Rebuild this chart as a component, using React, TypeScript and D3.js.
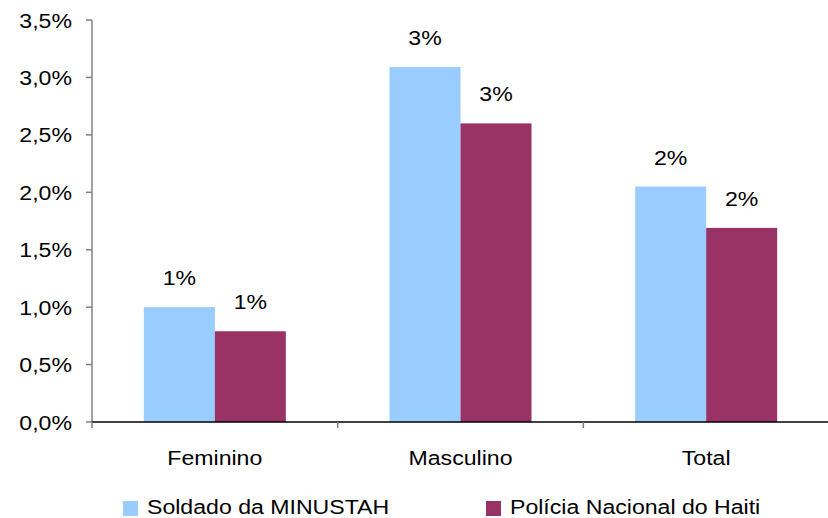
import React from "react";
import * as d3 from "d3";

const categories = ["Feminino", "Masculino", "Total"];
const seriesNames = ["Soldado da MINUSTAH", "Polícia Nacional do Haiti"];
const soldado = [1.0, 3.09, 2.05];
const policia = [0.79, 2.6, 1.69];
const barLabels = [["1%", "1%"], ["3%", "3%"], ["2%", "2%"]];
const yTicks = [0, 0.5, 1.0, 1.5, 2.0, 2.5, 3.0, 3.5];
const colors = ["#99ccff", "#993366"];

function T({ x, y, anchor = "start", children }: { x: number; y: number; anchor?: string; children: React.ReactNode }) {
  return (
    <text transform={`translate(${x},${y}) scale(1.1,1)`} textAnchor={anchor} fontSize={21} fill="#000">
      {children}
    </text>
  );
}

export default function App() {
  const W = 828, H = 518;
  const left = 92, right = 829, top = 20, bottom = 422;
  const x = d3.scaleBand().domain(categories).range([left, right]).paddingInner(0).paddingOuter(0);
  const y = d3.scaleLinear().domain([0, 3.5]).range([bottom, top]);
  const bw = 71;
  const series = [soldado, policia];
  const font = "'Liberation Sans', Arial, sans-serif";
  const fmt = (v: number) => v.toFixed(1).replace(".", ",") + "%";
  const axisColor = "#808080";
  return (
    <div style={{ position: "absolute", left: 0, top: 0 }}>
      <svg width={W} height={H} style={{ display: "block" }} fontFamily={font}>
        <rect width={W} height={H} fill="#fff" />
        {categories.map((c, i) =>
          series.map((s, j) => {
            const cx = (x(c) as number) + x.bandwidth() / 2;
            const bx = cx - bw + j * bw;
            return (
              <g key={c + j}>
                <rect x={bx} y={y(s[i])} width={bw} height={bottom - y(s[i])} fill={colors[j]} />
                <T x={bx + bw / 2} y={y(s[i]) - 22} anchor="middle">{barLabels[i][j]}</T>
              </g>
            );
          })
        )}
        <line x1={left} x2={left} y1={top} y2={bottom} stroke={axisColor} strokeWidth={1.5} />
        {yTicks.map((t) => (
          <g key={t}>
            <line x1={left - 6} x2={left} y1={y(t)} y2={y(t)} stroke={axisColor} strokeWidth={1.5} />
            <T x={72} y={y(t) + 7.5} anchor="end">{fmt(t)}</T>
          </g>
        ))}
        <line x1={left} x2={right} y1={bottom} y2={bottom} stroke="#000" strokeWidth={1.5} />
        {categories.map((c) => (
          <g key={c}>
            <line x1={x(c) as number} x2={x(c) as number} y1={bottom} y2={bottom + 6} stroke={axisColor} strokeWidth={1.5} />
            <T x={(x(c) as number) + x.bandwidth() / 2} y={465} anchor="middle">{c}</T>
          </g>
        ))}
        {seriesNames.map((n, j) => {
          const lx = j === 0 ? 123 : 486;
          return (
            <g key={n}>
              <rect x={lx} y={501} width={15} height={15} fill={colors[j]} />
              <T x={lx + 24} y={514}>{n}</T>
            </g>
          );
        })}
      </svg>
    </div>
  );
}
